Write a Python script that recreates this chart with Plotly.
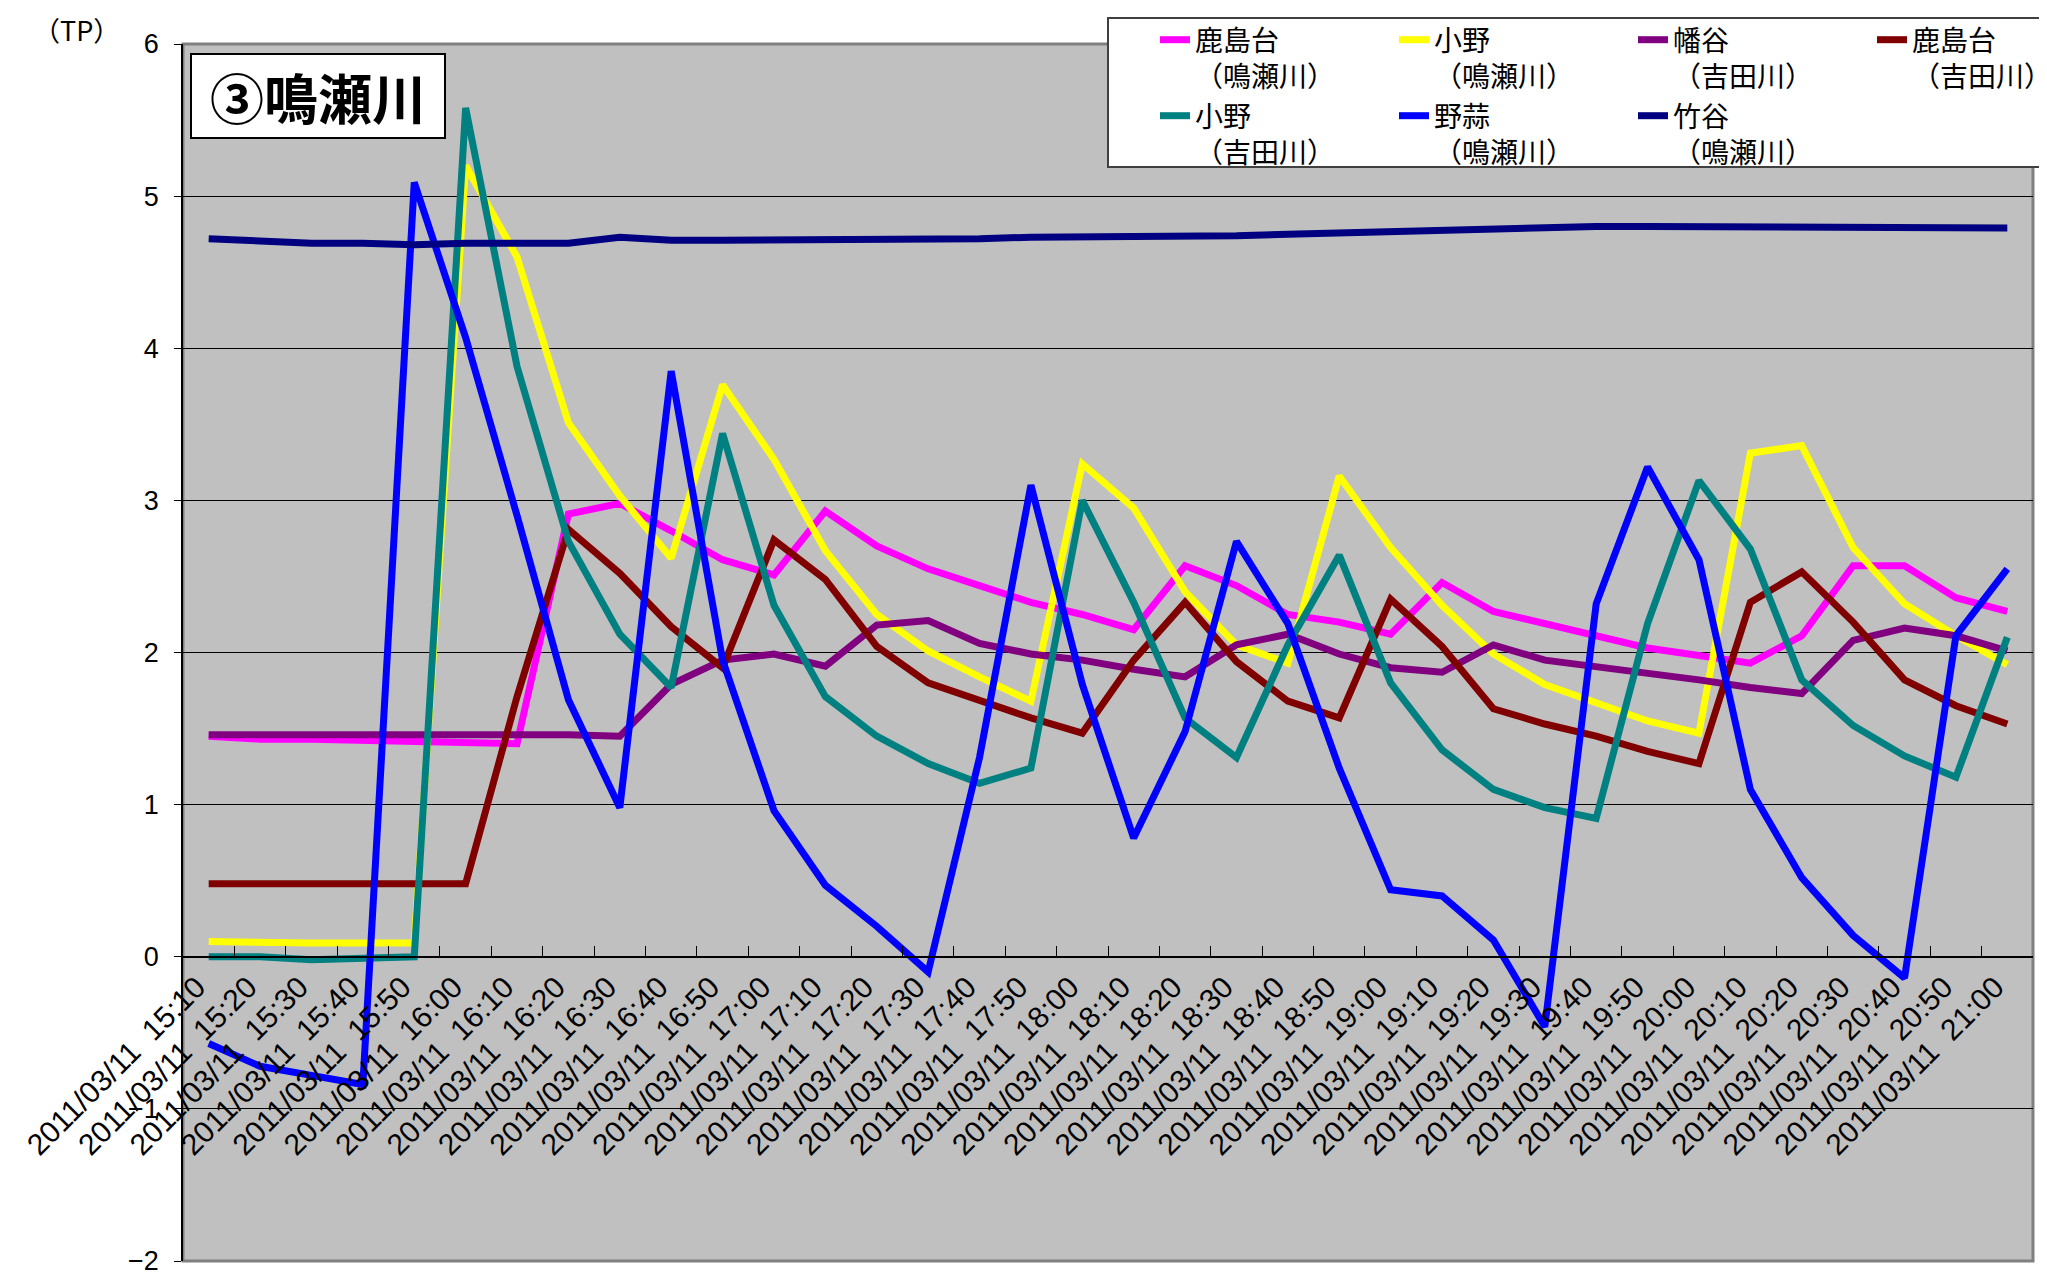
import plotly.graph_objects as go

times = ["15:10", "15:20", "15:30", "15:40", "15:50", "16:00", "16:10", "16:20", "16:30", "16:40",
         "16:50", "17:00", "17:10", "17:20", "17:30", "17:40", "17:50", "18:00", "18:10", "18:20",
         "18:30", "18:40", "18:50", "19:00", "19:10", "19:20", "19:30", "19:40", "19:50", "20:00",
         "20:10", "20:20", "20:30", "20:40", "20:50", "21:00"]
categories = ["2011/03/11\u00a0 " + t for t in times]

kashimadai_naruse = [1.45, 1.43, 1.43, 1.42, 1.41, 1.40, 1.40, 2.91, 2.98, 2.80, 2.61, 2.51, 2.93, 2.70, 2.55, 2.44,
                     2.33, 2.25, 2.15, 2.57, 2.44, 2.25, 2.20, 2.12, 2.46, 2.27, 2.19, 2.12, 2.03, 1.98, 1.93, 2.11,
                     2.57, 2.57, 2.36, 2.27]
ono_naruse = [0.10, 0.09, 0.09, 0.09, 0.09, 5.20, 4.60, 3.51, 3.03, 2.62, 3.76, 3.27, 2.67, 2.25, 2.01, 1.84,
              1.68, 3.24, 2.95, 2.40, 2.05, 1.93, 3.16, 2.69, 2.31, 1.99, 1.79, 1.67, 1.55, 1.47, 3.31, 3.36,
              2.69, 2.32, 2.11, 1.92]
hataya_yoshida = [1.46, 1.46, 1.46, 1.47, 1.46, 1.46, 1.46, 1.46, 1.45, 1.79, 1.95, 1.99, 1.91, 2.18, 2.21, 2.06,
                  1.99, 1.95, 1.89, 1.84, 2.05, 2.12, 1.99, 1.90, 1.87, 2.05, 1.95, 1.91, 1.86, 1.82, 1.77, 1.73,
                  2.08, 2.16, 2.11, 2.01]
kashimadai_yoshida = [0.48, 0.48, 0.48, 0.48, 0.48, 0.48, 1.71, 2.81, 2.52, 2.17, 1.90, 2.74, 2.48, 2.04, 1.80, 1.68,
                      1.57, 1.47, 1.95, 2.33, 1.94, 1.68, 1.57, 2.35, 2.04, 1.63, 1.53, 1.45, 1.35, 1.27, 2.33, 2.53,
                      2.20, 1.82, 1.65, 1.53]
ono_yoshida = [0.00, 0.00, -0.02, -0.01, 0.00, 5.58, 3.88, 2.73, 2.12, 1.77, 3.44, 2.31, 1.71, 1.45, 1.27, 1.14,
               1.24, 3.00, 2.33, 1.57, 1.31, 2.05, 2.64, 1.80, 1.36, 1.10, 0.98, 0.91, 2.19, 3.13, 2.68, 1.82,
               1.52, 1.32, 1.18, 2.10]
nobiru_naruse = [-0.57, -0.72, -0.78, -0.84, 5.09, 4.07, 2.90, 1.69, 0.98, 3.85, 1.95, 0.96, 0.47, 0.20, -0.10, 1.31,
                 3.10, 1.79, 0.78, 1.48, 2.73, 2.19, 1.24, 0.44, 0.40, 0.11, -0.46, 2.32, 3.22, 2.61, 1.10, 0.52,
                 0.14, -0.14, 2.11, 2.55]
takeya_naruse = [4.72, 4.70, 4.69, 4.69, 4.68, 4.69, 4.69, 4.69, 4.73, 4.71, 4.71, 4.71, 4.71, 4.72, 4.72, 4.72,
                 4.73, 4.73, 4.73, 4.73, 4.74, 4.75, 4.76, 4.77, 4.78, 4.79, 4.80, 4.80, 4.80, 4.80, 4.80, 4.80,
                 4.80, 4.79, 4.79, 4.79]

series_names = ["鹿島台<br>（鳴瀬川）", "小野<br>（鳴瀬川）", "幡谷<br>（吉田川）", "鹿島台<br>（吉田川）",
                "小野<br>（吉田川）", "野蒜<br>（鳴瀬川）", "竹谷<br>（鳴瀬川）"]
series_values = [kashimadai_naruse, ono_naruse, hataya_yoshida, kashimadai_yoshida,
                 ono_yoshida, nobiru_naruse, takeya_naruse]
series_colors = ["#FF00FF", "#FFFF00", "#800080", "#800000", "#008080", "#0000FF", "#000080"]
legend_ids = ["legend", "legend", "legend", "legend", "legend2", "legend2", "legend2"]

y_ticks = [-2, -1, 0, 1, 2, 3, 4, 5, 6]

LATIN = "Liberation Sans, Arial, sans-serif"
CJK = "Noto Sans CJK JP, sans-serif"

fig = go.Figure()
for name, vals, col, lg in zip(series_names, series_values, series_colors, legend_ids):
    fig.add_trace(go.Scatter(x=categories, y=vals, mode="lines", name=name,
                             line=dict(color=col, width=7), legend=lg))

# the page body has an 8px default margin: size the figure so the plot lands where the reference has it
OFF = 8
W, H = 2047 - OFF, 1273 - OFF
L, R, T, B = 175, 14, 36, 12
PW, PH = W - L - R, H - T - B


def px(sx):
    return (sx - OFF - L) / PW


def py(sy):
    return (H - B - (sy - OFF)) / PH


legend_common = dict(orientation="h", xanchor="left", yanchor="top",
                     entrywidth=194, entrywidthmode="pixels", valign="top",
                     bgcolor="rgba(0,0,0,0)", font=dict(family=CJK, size=28, color="black"),
                     tracegroupgap=0, itemwidth=30)

fig.update_layout(
    width=W, height=H,
    margin=dict(l=L, r=R, t=T, b=B, pad=0, autoexpand=False),
    paper_bgcolor="white",
    plot_bgcolor="#C0C0C0",
    font=dict(family=LATIN, color="black", size=26),
    xaxis=dict(type="category", categoryorder="array", categoryarray=categories,
               range=[-0.5, len(categories) - 0.5], tickson="boundaries",
               ticks="inside", ticklen=10, tickcolor="black", tickwidth=1,
               showline=True, linecolor="black", linewidth=1.5,
               anchor="free", position=0.25, tickangle=-45, ticklabelshift=-12,
               tickfont=dict(family=LATIN, size=30, color="black"),
               showgrid=False, zeroline=False, automargin=False),
    yaxis=dict(range=[-2, 6], tickvals=y_ticks, showgrid=True, gridcolor="black", gridwidth=1,
               zeroline=False, showline=True, linecolor="black", linewidth=1.5,
               ticks="outside", ticklen=7, tickcolor="black", ticklabelstandoff=10,
               ticklabeloverflow="allow",
               tickfont=dict(family=LATIN, size=27, color="black"), automargin=False),
    legend=dict(x=px(1155), y=py(15), **legend_common),
    legend2=dict(x=px(1155), y=py(91), **legend_common),
    shapes=[
        dict(type="rect", xref="paper", yref="paper", x0=0, x1=1, y0=0, y1=1,
             line=dict(color="#808080", width=3), layer="below"),
        dict(type="rect", xref="paper", yref="paper", x0=px(191), x1=px(445), y0=py(138), y1=py(54),
             line=dict(color="black", width=2), fillcolor="white", layer="above"),
        dict(type="rect", xref="paper", yref="paper", x0=px(1108), x1=px(2060), y0=py(167), y1=py(18),
             line=dict(color="#404040", width=2), fillcolor="white", layer="above"),
    ],
    annotations=[
        dict(text="<b>③鳴瀬川</b>", xref="paper", yref="paper", x=px(318), y=py(97),
             xanchor="center", yanchor="middle", showarrow=False,
             font=dict(family=CJK, size=54, color="black")),
        dict(text="（TP）", xref="paper", yref="paper", x=px(76), y=py(8),
             xanchor="center", yanchor="top", showarrow=False,
             font=dict(family=CJK, size=27, color="black")),
    ],
)

fig.write_html("out.html")
